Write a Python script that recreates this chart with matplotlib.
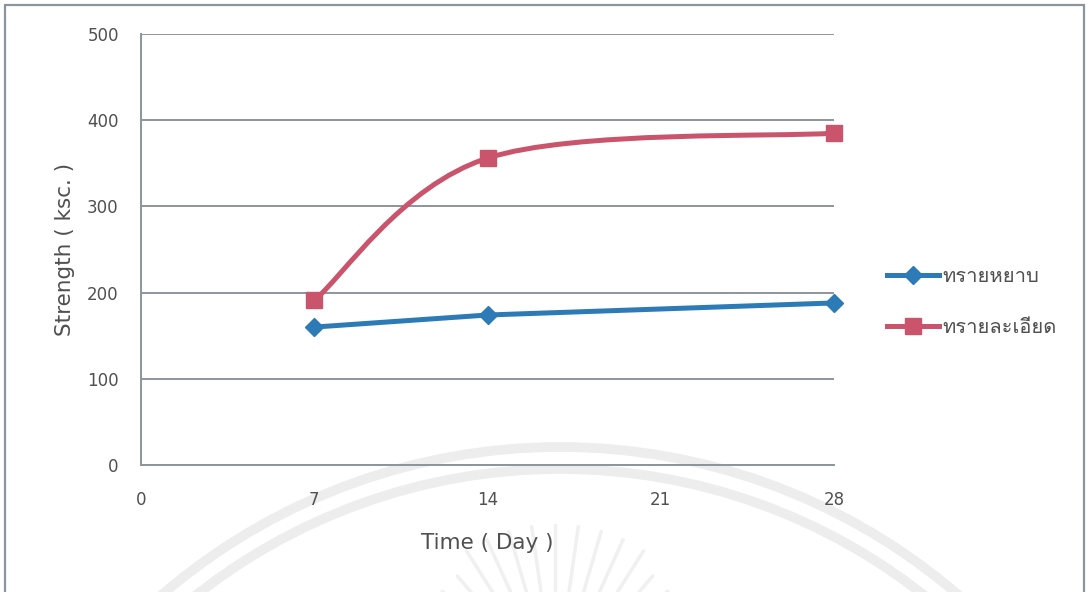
import numpy as np
import matplotlib
matplotlib.use("Agg")
import matplotlib.pyplot as plt
import matplotlib.font_manager as fm
from matplotlib.path import Path
from matplotlib.patches import PathPatch, Rectangle, Arc
from matplotlib.lines import Line2D
from matplotlib.ft2font import FT2Font

# ── DATA ───────────────────────────────────────────────────────────────────────
days        = [7, 14, 28]
coarse_sand = [160, 174, 188]     # ทรายหยาบ
fine_sand   = [191, 356, 385]     # ทรายละเอียด
x_ticks     = [0, 7, 14, 21, 28]
y_ticks     = [0, 100, 200, 300, 400, 500]
labels      = ["ทรายหยาบ", "ทรายละเอียด"]

# Palette
BLUE  = "#2C7BB6"
RED   = "#C9546C"
GRID  = "#8C949C"
TEXT  = "#505050"
WMARK = "#EDEDED"

W, H = 1090, 592


def thai_family():
    for f in fm.fontManager.ttflist:
        try:
            cmap = FT2Font(f.fname).get_charmap()
        except Exception:
            continue
        if 0x0E17 in cmap and 0x0E22 in cmap:
            return [f.name, "DejaVu Sans"]
    return ["DejaVu Sans"]


def smooth_path(xs, ys):
    # Excel-style smoothed line: cubic Bezier through every point
    verts = [(xs[0], ys[0])]
    codes = [Path.MOVETO]
    n = len(xs)
    for i in range(n - 1):
        p0 = (xs[max(i - 1, 0)], ys[max(i - 1, 0)])
        p1 = (xs[i], ys[i])
        p2 = (xs[i + 1], ys[i + 1])
        p3 = (xs[min(i + 2, n - 1)], ys[min(i + 2, n - 1)])
        c1 = (p1[0] + (p2[0] - p0[0]) / 6, p1[1] + (p2[1] - p0[1]) / 6)
        c2 = (p2[0] - (p3[0] - p1[0]) / 6, p2[1] - (p3[1] - p1[1]) / 6)
        verts += [c1, c2, p2]
        codes += [Path.CURVE4] * 3
    return Path(verts, codes)


fig = plt.figure(figsize=(W / 100, H / 100), dpi=100)
fig.patch.set_facecolor("white")

# ── watermark (faint seal behind the chart) ──
for r in [610, 588]:
    fig.add_artist(Arc((560 / W, 1 - 1057 / H), 2 * r / W, 2 * r / H,
                       theta1=20, theta2=160, transform=fig.transFigure,
                       color=WMARK, lw=7, zorder=0))
cx, cy = 555, 690
for ang in np.linspace(25, 155, 17):
    a = np.radians(ang)
    r0, r1 = 100, 165 if abs(ang - 90) < 35 else 150
    fig.add_artist(Line2D([(cx + r0 * np.cos(a)) / W, (cx + r1 * np.cos(a)) / W],
                          [1 - (cy - r0 * np.sin(a)) / H, 1 - (cy - r1 * np.sin(a)) / H],
                          transform=fig.transFigure, color="#F0F0F0", lw=2.5,
                          solid_capstyle="round", zorder=0))

# outer chart border
fig.add_artist(Rectangle((5 / W, -0.05), 1079 / W, 1.05 - 5 / H,
                         transform=fig.transFigure, fill=False,
                         edgecolor=GRID, lw=1.6, zorder=1))

ax = fig.add_axes([141 / W, 1 - 465 / H, 693 / W, 431 / H])
ax.set_facecolor("none")
ax.set_xlim(0, 28)
ax.set_ylim(0, 500)
ax.set_xticks(x_ticks)
ax.set_yticks(y_ticks)
ax.tick_params(length=0, colors=TEXT, labelsize=12)
ax.tick_params(axis="x", pad=19)
ax.tick_params(axis="y", pad=16)
for s in ["top", "right"]:
    ax.spines[s].set_visible(False)
for s in ["left", "bottom"]:
    ax.spines[s].set_color(GRID)
    ax.spines[s].set_linewidth(1.4)
ax.yaxis.grid(True, color=GRID, lw=1.4)
ax.set_axisbelow(True)

ax.set_xlabel("Time ( Day )", fontsize=15.5, color=TEXT)
ax.xaxis.set_label_coords(0.5, -0.158)
ax.set_ylabel("Strength ( ksc. )", fontsize=15.5, color=TEXT)
ax.yaxis.set_label_coords(-0.095, 0.5)

# blue — straight segments
ax.plot(days, coarse_sand, color=BLUE, lw=3.6, marker="D", ms=9,
        markeredgecolor=BLUE, zorder=4, clip_on=False)
# red — smoothed line
ax.add_patch(PathPatch(smooth_path(days, fine_sand), facecolor="none",
                       edgecolor=RED, lw=3.6, zorder=3, clip_on=False))
ax.plot(days, fine_sand, ls="none", marker="s", ms=11.5, color=RED,
        zorder=5, clip_on=False)

handles = [Line2D([], [], color=BLUE, lw=3.6, marker="D", ms=9),
           Line2D([], [], color=RED, lw=3.6, marker="s", ms=11.5)]
leg = fig.legend(handles, labels, loc="center left",
                 bbox_to_anchor=(869 / W, 1 - 302 / H),
                 frameon=False, handlelength=2.6, handletextpad=0.15,
                 labelspacing=1.6,
                 prop=fm.FontProperties(family=thai_family(), size=14.5))
for t in leg.get_texts():
    t.set_color(TEXT)

fig.savefig("out.png", dpi=100, facecolor="white")
